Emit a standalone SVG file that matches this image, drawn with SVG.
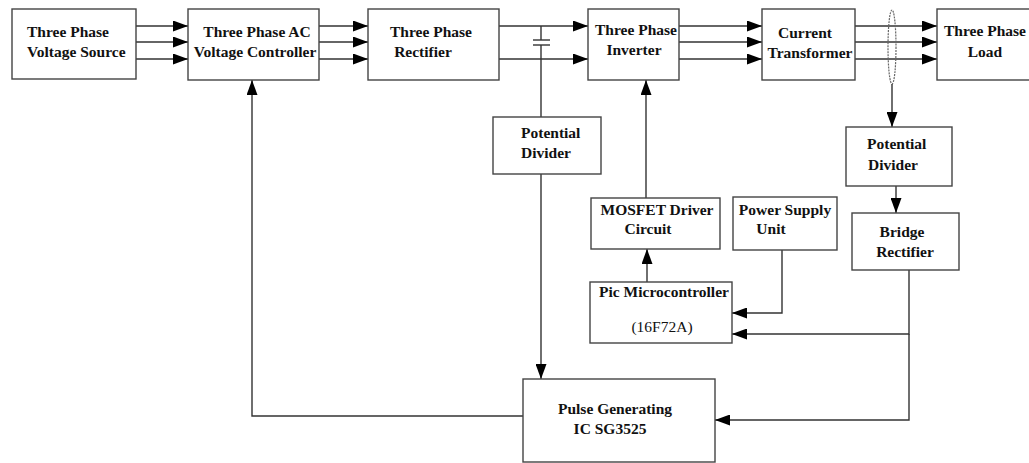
<svg xmlns="http://www.w3.org/2000/svg" width="1029" height="463" viewBox="0 0 1029 463">
<defs>
<marker id="ah" markerUnits="userSpaceOnUse" markerWidth="15" markerHeight="11" refX="15" refY="5.5" orient="auto">
<path d="M0,0 L15,5.5 L0,11 z" fill="#000"/>
</marker>
<style>
.box{fill:#fff;stroke:#444;stroke-width:1.4}
.t{font-family:"Liberation Serif","Times New Roman",serif;font-size:15.5px;font-weight:bold;fill:#111}
.r{font-family:"Liberation Serif","Times New Roman",serif;font-size:15.5px;fill:#111}
.c{fill:none;stroke:#333;stroke-width:1.4}
.a{fill:none;stroke:#333;stroke-width:1.4;marker-end:url(#ah)}
</style>
</defs>
<rect width="1029" height="463" fill="#fff"/>
<g id="connectors">
<line class="a" x1="136" y1="26" x2="188" y2="26"/>
<line class="a" x1="136" y1="42" x2="188" y2="42"/>
<line class="a" x1="136" y1="59" x2="188" y2="59"/>
<line class="a" x1="319" y1="26" x2="368" y2="26"/>
<line class="a" x1="319" y1="42" x2="368" y2="42"/>
<line class="a" x1="319" y1="59" x2="368" y2="59"/>
<line class="a" x1="499" y1="26" x2="588" y2="26"/>
<line class="a" x1="499" y1="59" x2="588" y2="59"/>
<line class="a" x1="679" y1="26" x2="762" y2="26"/>
<line class="a" x1="679" y1="42" x2="762" y2="42"/>
<line class="a" x1="679" y1="59" x2="762" y2="59"/>
<line class="a" x1="855" y1="26" x2="937" y2="26"/>
<line class="a" x1="855" y1="42" x2="937" y2="42"/>
<line class="a" x1="855" y1="59" x2="937" y2="59"/>
<line class="c" x1="541" y1="26" x2="541" y2="40"/>
<line class="c" x1="533" y1="40" x2="550" y2="40"/>
<line class="c" x1="533" y1="45" x2="550" y2="45"/>
<line class="c" x1="541" y1="45" x2="541" y2="117"/>
<line class="a" x1="541" y1="174" x2="541" y2="379"/>
<line class="a" x1="646" y1="198" x2="646" y2="80"/>
<line class="a" x1="647" y1="282" x2="647" y2="249"/>
<polyline class="a" points="782,250 782,313 732,313"/>
<polyline class="a" points="909,270 909,334 732,334"/>
<polyline class="a" points="909,334 909,420 715,420"/>
<polyline class="a" points="523,416 252,416 252,80"/>
<ellipse cx="892" cy="47" rx="4" ry="37" fill="none" stroke="#666" stroke-width="1.2" stroke-dasharray="2,1"/>
<line class="a" x1="892" y1="84" x2="892" y2="127"/>
<line class="a" x1="896" y1="186" x2="896" y2="213"/>
</g>
<g id="voltage-source">
<rect class="box" x="12" y="9" width="124" height="70"/>
<text class="t" x="27" y="37">Three Phase</text>
<text class="t" x="27" y="57">Voltage Source</text>
</g>
<g id="ac-controller">
<rect class="box" x="188" y="9" width="131" height="71"/>
<text class="t" x="257" y="37" text-anchor="middle">Three Phase AC</text>
<text class="t" x="255" y="57" text-anchor="middle">Voltage Controller</text>
</g>
<g id="rectifier">
<rect class="box" x="368" y="9" width="131" height="71"/>
<text class="t" x="431" y="37" text-anchor="middle">Three Phase</text>
<text class="t" x="423" y="57" text-anchor="middle">Rectifier</text>
</g>
<g id="inverter">
<rect class="box" x="588" y="9" width="91" height="71"/>
<text class="t" x="636" y="35" text-anchor="middle">Three Phase</text>
<text class="t" x="634" y="55" text-anchor="middle">Inverter</text>
</g>
<g id="current-transformer">
<rect class="box" x="762" y="9" width="93" height="71"/>
<text class="t" x="805" y="38" text-anchor="middle">Current</text>
<text class="t" x="810" y="58" text-anchor="middle">Transformer</text>
</g>
<g id="load">
<rect class="box" x="937" y="9" width="100" height="71"/>
<text class="t" x="985" y="36" text-anchor="middle">Three Phase</text>
<text class="t" x="985" y="57" text-anchor="middle">Load</text>
</g>
<g id="potential-divider-1">
<rect class="box" x="493" y="117" width="108" height="57"/>
<text class="t" x="521" y="138">Potential</text>
<text class="t" x="521" y="158">Divider</text>
</g>
<g id="mosfet-driver">
<rect class="box" x="591" y="198" width="129" height="51"/>
<text class="t" x="657" y="215" text-anchor="middle">MOSFET Driver</text>
<text class="t" x="648" y="234" text-anchor="middle">Circuit</text>
</g>
<g id="power-supply">
<rect class="box" x="733" y="197" width="104" height="53"/>
<text class="t" x="785" y="215" text-anchor="middle">Power Supply</text>
<text class="t" x="771" y="234" text-anchor="middle">Unit</text>
</g>
<g id="pic-microcontroller">
<rect class="box" x="590" y="282" width="142" height="61"/>
<text class="t" x="664" y="297" text-anchor="middle">Pic Microcontroller</text>
<text class="r" x="662" y="332" text-anchor="middle">(16F72A)</text>
</g>
<g id="potential-divider-2">
<rect class="box" x="846" y="127" width="106" height="59"/>
<text class="t" x="867" y="149">Potential</text>
<text class="t" x="868" y="170">Divider</text>
</g>
<g id="bridge-rectifier">
<rect class="box" x="852" y="213" width="107" height="57"/>
<text class="t" x="902" y="237" text-anchor="middle">Bridge</text>
<text class="t" x="905" y="257" text-anchor="middle">Rectifier</text>
</g>
<g id="pulse-generator">
<rect class="box" x="523" y="379" width="192" height="83"/>
<text class="t" x="615" y="414" text-anchor="middle">Pulse Generating</text>
<text class="t" x="610" y="434" text-anchor="middle">IC SG3525</text>
</g>
</svg>
